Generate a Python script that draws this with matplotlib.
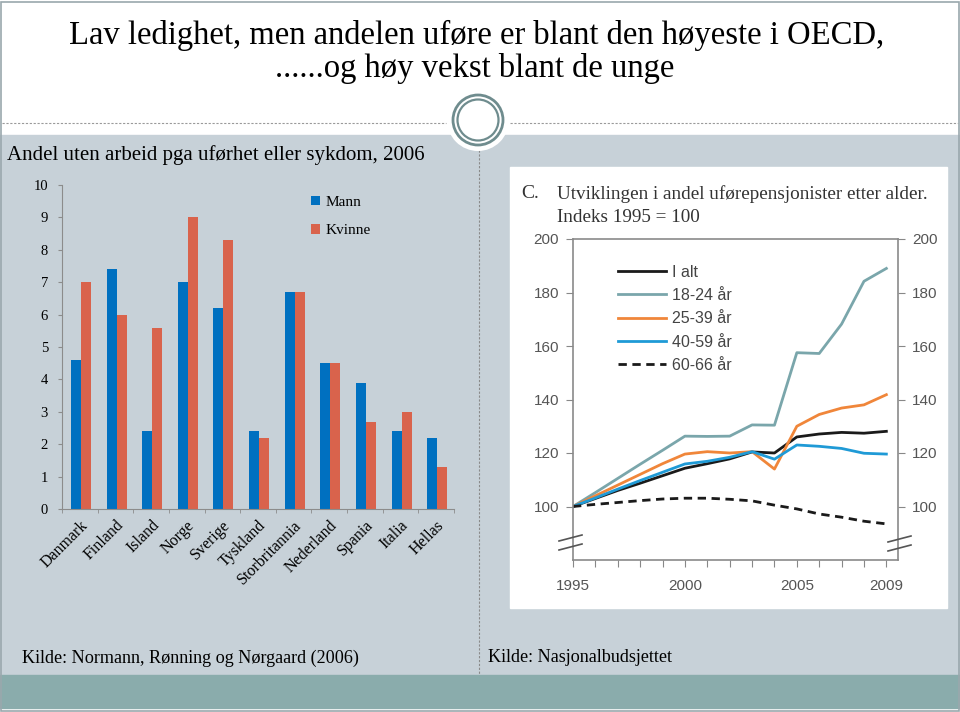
import matplotlib.pyplot as plt
import numpy as np
from matplotlib.lines import Line2D
from matplotlib.patches import Ellipse, Rectangle

# %% Data
countries = ["Danmark", "Finland", "Island", "Norge", "Sverige", "Tyskland",
             "Storbritannia", "Nederland", "Spania", "Italia", "Hellas"]
mann = [4.6, 7.4, 2.4, 7.0, 6.2, 2.4, 6.7, 4.5, 3.9, 2.4, 2.2]
kvinne = [7.0, 6.0, 5.6, 9.0, 8.3, 2.2, 6.7, 4.5, 2.7, 3.0, 1.3]

years = list(range(1995, 2010))
i_alt = [100, 103.0, 106.0, 108.7, 111.5, 114.3, 116.0, 117.8, 120.4, 120.0,
         126.0, 127.1, 127.7, 127.4, 128.1]
age_18_24 = [100, 105.2, 110.5, 115.8, 121.0, 126.3, 126.2, 126.3, 130.5, 130.4,
             157.5, 157.2, 168.2, 184.2, 189.0]
age_25_39 = [100, 104.0, 108.0, 112.0, 116.0, 119.6, 120.5, 120.0, 120.5, 114.0,
             130.0, 134.4, 136.8, 138.0, 141.8]
age_40_59 = [100, 103.2, 106.5, 109.7, 112.8, 115.9, 116.9, 118.4, 120.5, 117.7,
             123.0, 122.5, 121.7, 119.9, 119.6]
age_60_66 = [100, 100.8, 101.5, 102.2, 102.8, 103.1, 103.1, 102.7, 102.1, 100.5,
             99.1, 97.2, 96.0, 94.5, 93.5]

W, H = 960, 712
SERIF = ["Liberation Serif", "DejaVu Serif"]
SANS = ["Liberation Sans", "DejaVu Sans"]
PANEL = "#c7d1d8"


def fx(x):
    return x / W


def fy(y):
    return 1 - y / H


def box(x0, y0, x1, y1):
    """Figure-fraction rect [left, bottom, width, height] from pixel corners."""
    return [fx(x0), fy(y1), (x1 - x0) / W, (y1 - y0) / H]


fig = plt.figure(figsize=(W / 100, H / 100), dpi=100)
fig.patch.set_facecolor("white")

# %% Slide background
fig.add_artist(Rectangle((fx(0), fy(675)), 1, (675 - 135) / H,
                         transform=fig.transFigure, color=PANEL, zorder=0))
fig.add_artist(Rectangle((fx(0), fy(708)), 1, (708 - 675) / H,
                         transform=fig.transFigure, color="#8aacac", zorder=0))
fig.add_artist(Rectangle((0.001, 0.001), 0.998, 0.996, transform=fig.transFigure,
                         fill=False, edgecolor="#9aa8ad", lw=1.2, zorder=5))
fig.add_artist(Line2D([fx(2), fx(446)], [fy(123)] * 2, transform=fig.transFigure,
                      color="#9a9a9a", lw=0.8, ls=(0, (2, 1.5)), zorder=1))
fig.add_artist(Line2D([fx(510), fx(958)], [fy(123)] * 2, transform=fig.transFigure,
                      color="#9a9a9a", lw=0.8, ls=(0, (2, 1.5)), zorder=1))
fig.add_artist(Line2D([fx(479)] * 2, [fy(150), fy(675)], transform=fig.transFigure,
                      color="#8a8a8a", lw=0.8, ls=(0, (2, 1.5)), zorder=1))
for r, kw in [(31, dict(facecolor="white", edgecolor="none")),
              (25, dict(facecolor="none", edgecolor="#6f8c8e", lw=2.0)),
              (20.5, dict(facecolor="none", edgecolor="#6f8c8e", lw=1.6))]:
    fig.add_artist(Ellipse((fx(478), fy(120)), 2 * r / W, 2 * r / H,
                           transform=fig.transFigure, zorder=2, **kw))

fig.text(fx(477), fy(35), "Lav ledighet, men andelen uføre er blant den høyeste i OECD,",
         ha="center", va="center", fontsize=23.5, family=SERIF)
fig.text(fx(475), fy(69), "......og høy vekst blant de unge",
         ha="center", va="center", fontsize=23.5, family=SERIF)
fig.text(fx(7), fy(155), "Andel uten arbeid pga uførhet eller sykdom, 2006",
         ha="left", va="center", fontsize=15, family=SERIF)
fig.text(fx(22), fy(658), "Kilde: Normann, Rønning og Nørgaard (2006)",
         ha="left", va="center", fontsize=13.1, family=SERIF)
fig.text(fx(488), fy(658), "Kilde: Nasjonalbudsjettet",
         ha="left", va="center", fontsize=13.1, family=SERIF)

# %% Bar chart
ax = fig.add_axes(box(62, 185, 454, 509))
ax.set_facecolor("none")
x = np.arange(len(countries))
bw = 0.28
ax.bar(x - bw / 2 + 0.03, mann, bw, color="#0070c0", label="Mann")
ax.bar(x + bw / 2 + 0.03, kvinne, bw, color="#d9634c", label="Kvinne")
ax.set_xlim(-0.5, len(countries) - 0.5)
ax.set_ylim(0, 10)
ax.set_yticks(range(0, 11))
ax.set_xticks(x)
ax.set_xticklabels(countries, rotation=45, ha="right", rotation_mode="anchor",
                   fontsize=11.5, family=SERIF)
ax.set_xticks(np.arange(-0.5, len(countries)), minor=True)
ax.tick_params(axis="x", which="major", length=0, pad=6)
ax.tick_params(axis="x", which="minor", length=3, color="#8c8c8c", direction="out")
ax.tick_params(axis="y", length=3, color="#8c8c8c", labelsize=10.5, pad=7)
for lab in ax.get_yticklabels():
    lab.set_family(SERIF)
for s in ["top", "right"]:
    ax.spines[s].set_visible(False)
for s in ["left", "bottom"]:
    ax.spines[s].set_color("#8c8c8c")
ax.legend(loc="upper left", bbox_to_anchor=(0.60, 1.01), frameon=False,
          handlelength=0.6, handleheight=0.6, handletextpad=0.35,
          labelspacing=1.0, prop={"family": SERIF, "size": 11})

# %% Right panel (pasted figure)
fig.add_artist(Rectangle((fx(510), fy(608)), (947 - 510) / W, (608 - 167) / H,
                         transform=fig.transFigure, color="white", zorder=1))
fig.text(fx(521), fy(194), "C.", ha="left", va="center", fontsize=14,
         family=SERIF, color="#333333")
fig.text(fx(557), fy(194), "Utviklingen i andel uførepensjonister etter alder.",
         ha="left", va="center", fontsize=13.8, family=SERIF, color="#333333")
fig.text(fx(557), fy(217), "Indeks 1995 = 100", ha="left", va="center",
         fontsize=13.8, family=SERIF, color="#333333")

ax2 = fig.add_axes(box(573, 239, 898, 560))
ax2.set_facecolor("none")
ax2.set_zorder(3)
series = [
    ("I alt", i_alt, "#1a1a1a", "-"),
    ("18-24 år", age_18_24, "#7aa6ab", "-"),
    ("25-39 år", age_25_39, "#f0863a", "-"),
    ("40-59 år", age_40_59, "#1f9ad6", "-"),
    ("60-66 år", age_60_66, "#1a1a1a", (0, (3, 2))),
]
for name, vals, col, ls in series:
    ax2.plot(years, vals, color=col, ls=ls, lw=2.0, label=name)
ax2.set_xlim(1995, 2009.52)
ax2.set_ylim(80, 200)
ax2.set_yticks(range(100, 201, 20))
ax2.set_xticks(years)
ax2.set_xticklabels([str(y) if y in (1995, 2000, 2005, 2009) else "" for y in years])
ax2.tick_params(axis="both", colors="#888888", labelcolor="#555555", labelsize=11,
                length=5, direction="out")
ax2.tick_params(axis="y", right=True, labelright=True, pad=5)
ax2.tick_params(axis="x", pad=9)
for lab in ax2.get_xticklabels() + ax2.get_yticklabels():
    lab.set_family(SANS)
for s in ax2.spines.values():
    s.set_color("#8a8a8a")
    s.set_linewidth(1.2)
ax2.legend(loc="upper left", bbox_to_anchor=(0.095, 0.965), frameon=False,
           handlelength=3.0, handletextpad=0.35, labelspacing=0.52,
           prop={"family": SANS, "size": 11.5}, labelcolor="#444444")

# axis break marks
for xp, ys in [(571, [(541, 535), (550, 544)]), (900, [(542, 536), (551, 545)])]:
    for y0, y1 in ys:
        fig.add_artist(Line2D([fx(xp - 12), fx(xp + 11)], [fy(y0), fy(y1)],
                              transform=fig.transFigure, color="#555555",
                              lw=1.2, zorder=4))

fig.savefig("out.png", dpi=100)
